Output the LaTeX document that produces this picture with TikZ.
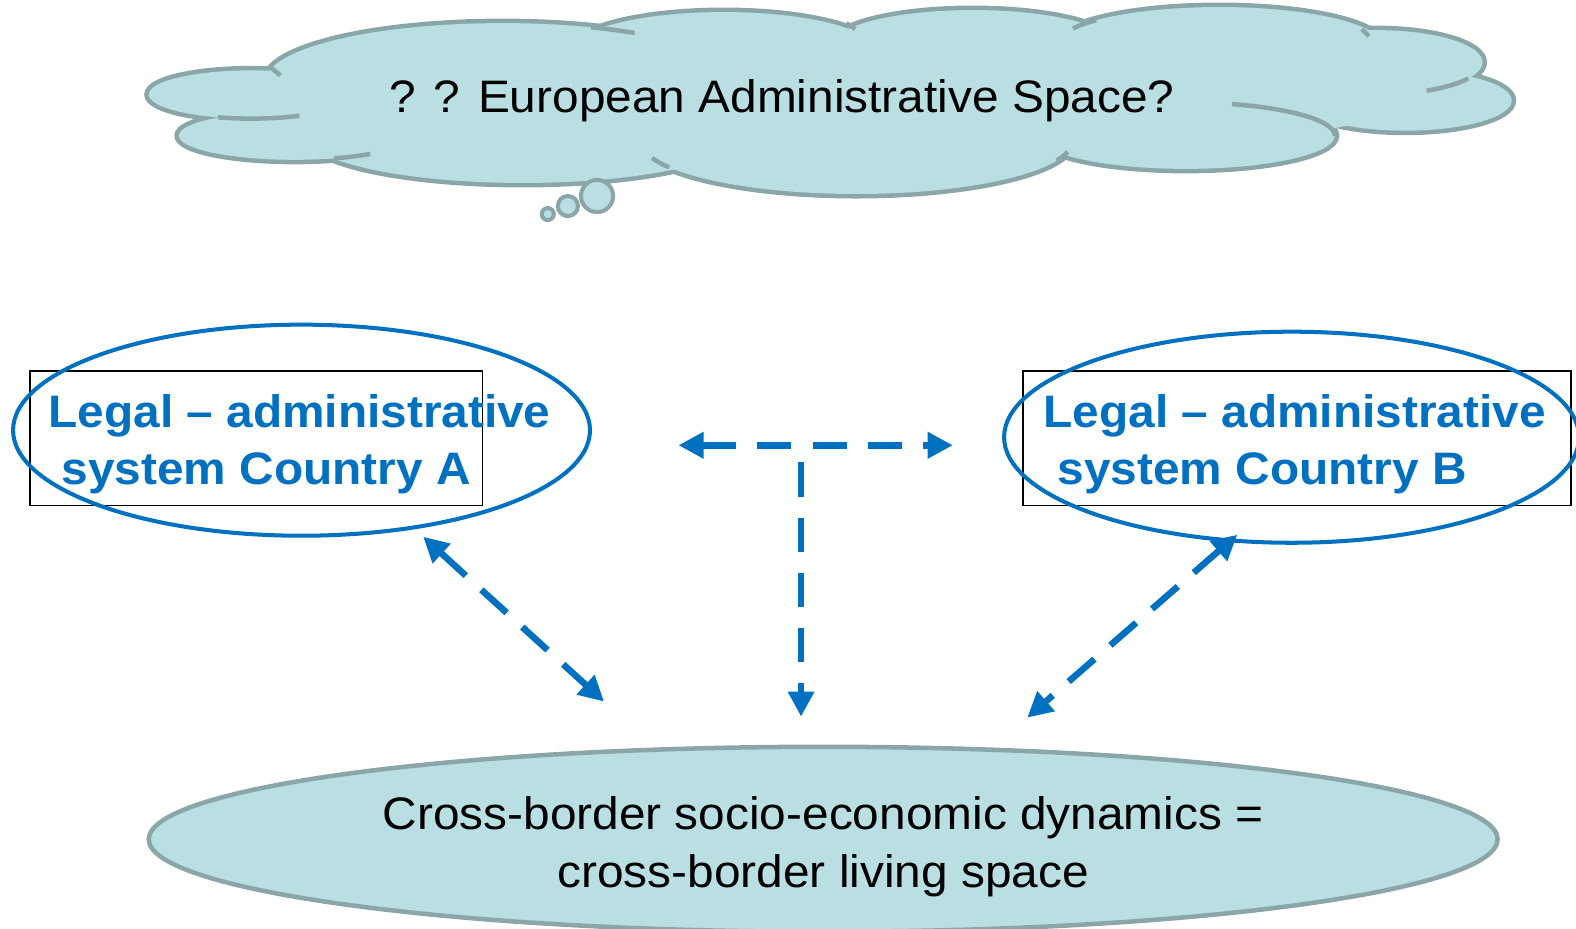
\documentclass[tikz,border=0pt]{standalone}
\usepackage{fontspec}
\setmainfont[FakeStretch=1.05]{Liberation Sans}
\usetikzlibrary{shapes.geometric,arrows.meta}
\definecolor{cloudfill}{RGB}{185,223,227}
\definecolor{cloudline}{RGB}{138,166,168}
\definecolor{ablue}{RGB}{0,112,192}
\begin{document}
\begin{tikzpicture}[x=1pt,y=-1pt,
  >={Triangle[length=25pt,width=25pt]},
  lobeline/.style={draw=cloudline,line width=9pt},
  lobefill/.style={fill=cloudfill},
  crease/.style={draw=cloudline,line width=4.5pt},
  bubble/.style={draw=cloudline,fill=cloudfill,line width=4pt},
  blacktxt/.style={black,font=\fontsize{45.3}{57}\selectfont,inner sep=0pt},
  bluetxt/.style={ablue,font=\fontsize{45.3}{57}\selectfont\bfseries,inner sep=0pt,anchor=base west},
  textbox/.style={draw=black,line width=1.5pt,inner sep=0pt,minimum height=134pt},
  sysell/.style={ellipse,draw=ablue,line width=4pt,inner sep=0pt,minimum height=210pt},
  conn/.style={ablue,line width=6.5pt,dash pattern=on 34pt off 21pt}
]
\useasboundingbox (0,0) rectangle (1568,924);

% ---------- cloud ----------
\foreach \cx/\cy/\rx/\ry in {250/94/102/24, 293/135/115/24, 520/135/215/47, 852/140/215/53,
  1180/135/148/33, 1398/100/106/30, 1370/62/105/32, 1213/45/162/38, 968/45/140/35,
  720/50/150/38, 500/80/235/57}
  \draw[lobeline] (\cx,\cy) ellipse [x radius=\rx, y radius=\ry];
\foreach \cx/\cy/\rx/\ry in {250/94/102/24, 293/135/115/24, 520/135/215/47, 852/140/215/53,
  1180/135/148/33, 1398/100/106/30, 1370/62/105/32, 1213/45/162/38, 968/45/140/35,
  720/50/150/38, 500/80/235/57, 830/100/560/60}
  \fill[lobefill] (\cx,\cy) ellipse [x radius=\rx, y radius=\ry];
% creases
\draw[crease] ([shift={(250,94)}]109:102 and 24) arc[start angle=109,end angle=62,x radius=102,y radius=24];
\draw[crease] ([shift={(293,135)}]70:115 and 24) arc[start angle=70,end angle=49,x radius=115,y radius=24];
\draw[crease] ([shift={(500,80)}]-68:235 and 57) arc[start angle=-68,end angle=-56,x radius=235,y radius=57];
\draw[crease] (268,66) -- (279,75);
\draw[crease] (842,23) -- (851,29);
\draw[crease] ([shift={(1213,45)}]206:162 and 38) arc[start angle=206,end angle=221,x radius=162,y radius=38];
\draw[crease] (1355,29) -- (1362,36);
\draw[crease] ([shift={(1370,62)}]30:105 and 32) arc[start angle=30,end angle=62,x radius=105,y radius=32];
\draw[crease] ([shift={(1180,135)}]-72:148 and 33) arc[start angle=-72,end angle=0,x radius=148,y radius=33];
\draw[crease] ([shift={(852,140)}]22:215 and 53) arc[start angle=22,end angle=12,x radius=215,y radius=53];
\draw[crease] ([shift={(852,140)}]161:215 and 53) arc[start angle=161,end angle=150,x radius=215,y radius=53];
% thought bubbles
\draw[bubble] (594,195) circle[radius=16];
\draw[bubble] (565,205) circle[radius=10];
\draw[bubble] (545,213) circle[radius=6];
\node[blacktxt,anchor=base] (eas) at (778,112) {? ? European Administrative Space?};

% ---------- legal-administrative systems ----------
\node[textbox,minimum width=450pt] (boxA) at (255,436) {};
\node[textbox,minimum width=545pt] (boxB) at (1290.5,436) {};
\node[sysell,minimum width=574pt] (ellA) at (300,428) {};
\node[sysell,minimum width=572pt] (ellB) at (1285,435) {};
\node[bluetxt] (A1) at (48,425) {Legal – administrative};
\node[bluetxt] (A2) at (61,482) {system Country A};
\node[bluetxt] (B1) at (1038,425) {Legal – administrative};
\node[bluetxt] (B2) at (1052,482) {system Country B};

% ---------- living space ----------
\node[ellipse,draw=cloudline,fill=cloudfill,line width=4.5pt,inner sep=0pt,
      minimum width=1342pt,minimum height=184pt] (live) at (819,835) {};
\node[blacktxt,anchor=base] (live1) at (819,825) {Cross-border socio-economic dynamics =};
\node[blacktxt,anchor=base] (live2) at (819,883) {cross-border living space};

% ---------- connectors ----------
\coordinate (hL) at (675,443);
\coordinate (hR) at (948,443);
\coordinate (vT) at (797,460);
\coordinate (vB) at (797,713);
\coordinate (dAa) at (421,534);
\coordinate (dAb) at (601,698);
\coordinate (dBa) at (1231,532);
\coordinate (dBb) at (1022,714);
\draw[conn,<->] (hL) -- (hR);
\draw[conn,->] (vT) -- (vB);
\draw[conn,<->] (dAa) -- (dAb);
\draw[conn,<->] (dBa) -- (dBb);
\end{tikzpicture}
\end{document}
